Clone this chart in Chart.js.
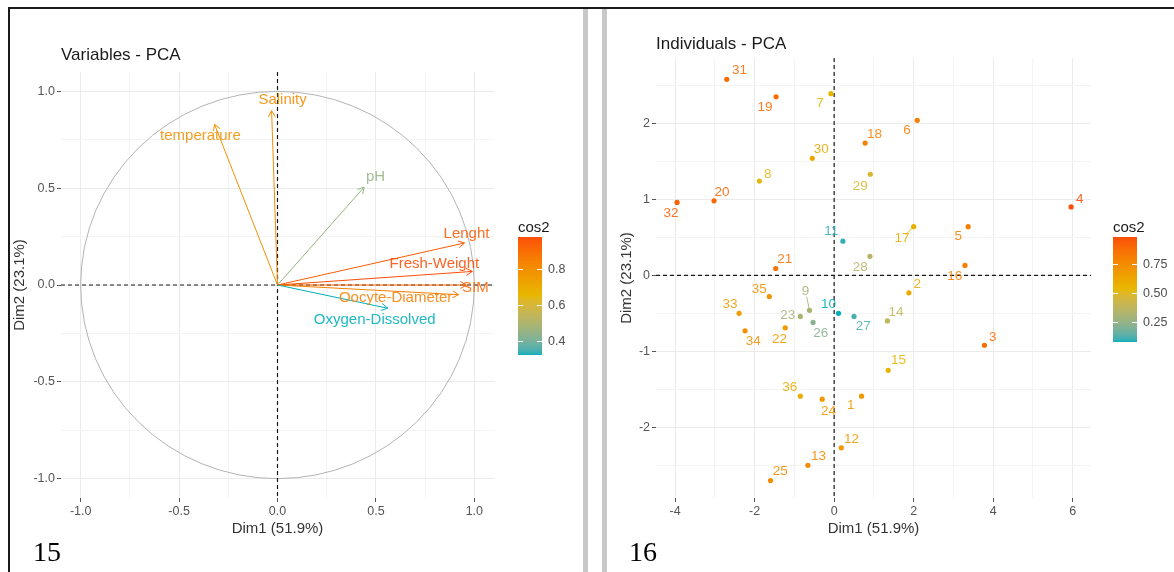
<!DOCTYPE html>
<html>
<head>
<meta charset="utf-8">
<title>PCA - variables and individuals</title>
<script src="https://cdn.jsdelivr.net/npm/chart.js@4.4.1/dist/chart.umd.min.js"></script>
<style>
    html, body { margin: 0; padding: 0; background: #fff; }
    body { width: 1174px; height: 572px; position: relative; overflow: hidden; }
    .frame-top { position: absolute; left: 8px; top: 7px; width: 1166px; height: 2px; background: #1a1a1a; }
    .frame-left { position: absolute; left: 8px; top: 7px; width: 2px; height: 565px; background: #1a1a1a; }
    .sep { position: absolute; top: 9px; width: 5px; height: 563px; background: #c8c8c8; }
    .panel { position: absolute; top: 10px; height: 560px; }
    .fig-no { position: absolute; top: 536px; font-family: "Liberation Serif", "Times New Roman", serif; font-size: 28px; color: #000; }
</style>
</head>
<body>
<div class="frame-top"></div>
<div class="frame-left"></div>
<div class="sep" style="left:583px"></div>
<div class="sep" style="left:602px"></div>
<div class="panel" style="left:10px;width:570px"><canvas id="varChart"></canvas></div>
<div class="panel" style="left:608px;width:566px"><canvas id="indChart"></canvas></div>
<div class="fig-no" style="left:33px">15</div>
<div class="fig-no" style="left:629px">16</div>

<script>
// variables panel (correlation circle)
const varNames = ['Salinity', 'temperature', 'pH', 'Lenght', 'Fresh-Weight', 'SIM', 'Oocyte-Diameter', 'Oxygen-Dissolved'];
const varDim1 = [-0.03, -0.32, 0.44, 0.95, 0.99, 0.96, 0.92, 0.56];
const varDim2 = [0.90, 0.83, 0.505, 0.217, 0.07, 0.0, -0.05, -0.12];
const varCos2 = [0.81, 0.79, 0.45, 0.95, 0.98, 0.92, 0.85, 0.32];
const varTicks = [-1, -0.5, 0, 0.5, 1];
const varMinor = [-0.75, -0.25, 0.25, 0.75];
const varRange = [-1.1, 1.1];
const varLegendTicks = [0.4, 0.6, 0.8];

// individuals panel
const indIds = ['1', '2', '3', '4', '5', '6', '7', '8', '9', '10', '11', '12', '13', '14', '15', '16', '17', '18',
    '19', '20', '21', '22', '23', '24', '25', '26', '27', '28', '29', '30', '31', '32', '33', '34', '35', '36'];
const indDim1 = [0.69, 1.88, 3.78, 5.96, 3.37, 2.09, -0.08, -1.88, -0.62, 0.11, 0.22, 0.18, -0.66, 1.34, 1.36, 3.29, 2.00, 0.78,
    -1.46, -3.02, -1.47, -1.23, -0.85, -0.30, -1.60, -0.53, 0.50, 0.90, 0.91, -0.55, -2.70, -3.95, -2.39, -2.24, -1.63, -0.85];
const indDim2 = [-1.59, -0.23, -0.92, 0.90, 0.64, 2.04, 2.39, 1.24, -0.46, -0.50, 0.45, -2.27, -2.50, -0.60, -1.25, 0.13, 0.64, 1.74,
    2.35, 0.98, 0.09, -0.69, -0.54, -1.63, -2.70, -0.62, -0.54, 0.25, 1.33, 1.54, 2.58, 0.96, -0.50, -0.73, -0.28, -1.59];
const indCos2 = [0.68, 0.60, 0.88, 0.98, 0.80, 0.80, 0.55, 0.52, 0.30, 0.08, 0.10, 0.70, 0.75, 0.38, 0.55, 0.80, 0.58, 0.80,
    0.88, 0.90, 0.85, 0.68, 0.30, 0.68, 0.75, 0.22, 0.12, 0.35, 0.48, 0.62, 0.88, 0.92, 0.66, 0.72, 0.72, 0.58];
const indXTicks = [-4, -2, 0, 2, 4, 6];
const indXMinor = [-3, -1, 1, 3, 5];
const indYTicks = [-2, -1, 0, 1, 2];
const indYMinor = [-2.5, -1.5, -0.5, 0.5, 1.5, 2.5];
const indXRange = [-4.48, 6.46];
const indYRange = [-2.93, 2.86];
const indLegendTicks = [0.25, 0.5, 0.75];

// label placement (pixel shift of the text centre from the mark), like ggrepel did it
const varLabelShift = [[11, -11], [-14, 12], [11.5, -10], [2, -9], [-38, -8], [9, 3], [-63, 3], [-13, 12]];
const indLabelShift = [[-10.7, 9.3], [8.3, -8.7], [8.3, -8.3], [8.7, -8], [-10, 9.3], [-10.3, 10.3], [-11, 10], [8.3, -7.3],
    [-4, -19.3], [-10, -9.3], [-11.7, -9.7], [10.3, -9], [10.7, -9.3], [8.7, -8.7], [10.2, -9.7], [-10.2, 11], [-11.7, 11.7],
    [9.3, -9.3], [-11, 11], [8, -8.3], [9.1, -9.3], [-5.7, 11.3], [-12.7, -0.7], [6.3, 12], [9.7, -9], [7.7, 11.3], [9.3, 10.3],
    [-9.7, 11.3], [-10, 12.3], [9, -8.7], [12.7, -8.7], [-6, 11], [-9, -9.3], [8.3, 10.3], [-10, -7.7], [-10.7, -9]];

const FONT = '"Liberation Sans", Arial, Helvetica, sans-serif';
const gradCols = ['#00AFBB', '#E7B800', '#FC4E07'];

// colour helpers: ggplot interpolates gradients in Lab space
function hexRgb(h) {
    const n = parseInt(h.slice(1), 16);
    return [(n >> 16) & 255, (n >> 8) & 255, n & 255];
}

function rgbToLab(rgb) {
    const lin = rgb.map(c => { c /= 255; return c <= 0.04045 ? c / 12.92 : Math.pow((c + 0.055) / 1.055, 2.4); });
    const X = (lin[0] * 0.4124 + lin[1] * 0.3576 + lin[2] * 0.1805) / 0.95047;
    const Y = (lin[0] * 0.2126 + lin[1] * 0.7152 + lin[2] * 0.0722);
    const Z = (lin[0] * 0.0193 + lin[1] * 0.1192 + lin[2] * 0.9505) / 1.08883;
    const f = t => t > 0.008856 ? Math.cbrt(t) : 7.787 * t + 16 / 116;
    return [116 * f(Y) - 16, 500 * (f(X) - f(Y)), 200 * (f(Y) - f(Z))];
}

function labToRgb(lab) {
    const fy = (lab[0] + 16) / 116, fx = fy + lab[1] / 500, fz = fy - lab[2] / 200;
    const inv = t => t * t * t > 0.008856 ? t * t * t : (t - 16 / 116) / 7.787;
    const X = inv(fx) * 0.95047, Y = inv(fy), Z = inv(fz) * 1.08883;
    const lin = [
        X * 3.2406 + Y * -1.5372 + Z * -0.4986,
        X * -0.9689 + Y * 1.8758 + Z * 0.0415,
        X * 0.0557 + Y * -0.2040 + Z * 1.0570
    ];
    return lin.map(c => {
        c = c <= 0.0031308 ? 12.92 * c : 1.055 * Math.pow(c, 1 / 2.4) - 0.055;
        return Math.max(0, Math.min(255, Math.round(c * 255)));
    });
}

const gradLab = gradCols.map(c => rgbToLab(hexRgb(c)));

function cos2Color(v, lo, hi) {
    const t = Math.max(0, Math.min(1, (v - lo) / (hi - lo))) * (gradLab.length - 1);
    const i = Math.min(gradLab.length - 2, Math.floor(t));
    const f = t - i;
    const c = labToRgb(gradLab[i].map((x, k) => x + (gradLab[i + 1][k] - x) * f));
    return `rgb(${c[0]},${c[1]},${c[2]})`;
}

function makeScale(major, minor, range, fmt, title, fit) {
    const all = major.concat(minor).sort((a, b) => a - b);
    const isMajor = v => major.includes(v);
    return {
        type: 'linear',
        min: range[0],
        max: range[1],
        afterBuildTicks: s => { s.ticks = all.map(v => ({ value: v })); },
        afterFit: s => {
            if (fit.width) s.width = fit.width;
            if (fit.height) s.height = fit.height;
        },
        grid: {
            color: c => (c.tick && isMajor(c.tick.value)) ? '#EBEBEB' : '#F4F4F4',
            lineWidth: 1,
            tickLength: 4,
            tickWidth: 1,
            tickColor: c => (c.tick && isMajor(c.tick.value)) ? '#555' : 'rgba(0,0,0,0)'
        },
        border: { display: false },
        ticks: {
            autoSkip: false,
            maxRotation: 0,
            padding: 2,
            color: '#555',
            font: { family: FONT, size: 12.5 },
            callback: v => isMajor(v) ? fmt(v) : ''
        },
        title: {
            display: true,
            text: title,
            color: '#333',
            font: { family: FONT, size: 15 },
            padding: fit.titlePad
        }
    };
}

// dashed zero lines (+ unit circle on the variables plot)
function refLines(withCircle) {
    return {
        id: 'refLines',
        beforeDatasetsDraw(chart) {
            const { ctx, chartArea: a, scales: { x, y } } = chart;
            const x0 = x.getPixelForValue(0), y0 = y.getPixelForValue(0);
            ctx.save();
            if (withCircle) {
                ctx.strokeStyle = '#B3B3B3';
                ctx.lineWidth = 1;
                ctx.beginPath();
                ctx.ellipse(x0, y0, x.getPixelForValue(1) - x0, y0 - y.getPixelForValue(1), 0, 0, Math.PI * 2);
                ctx.stroke();
            }
            ctx.strokeStyle = '#1a1a1a';
            ctx.lineWidth = 1.2;
            ctx.setLineDash([4, 3]);
            ctx.beginPath();
            ctx.moveTo(a.left, y0); ctx.lineTo(a.right, y0);
            ctx.moveTo(x0, a.top); ctx.lineTo(x0, a.bottom);
            ctx.stroke();
            ctx.restore();
        }
    };
}

function arrows(names, colors, shifts) {
    return {
        id: 'pcaArrows',
        afterDatasetsDraw(chart) {
            const { ctx, scales: { x, y } } = chart;
            const ox = x.getPixelForValue(0), oy = y.getPixelForValue(0);
            ctx.save();
            chart.getDatasetMeta(0).data.forEach((pt, i) => {
                const ang = Math.atan2(pt.y - oy, pt.x - ox);
                ctx.strokeStyle = colors[i];
                ctx.lineWidth = 1;
                ctx.beginPath();
                ctx.moveTo(ox, oy);
                ctx.lineTo(pt.x, pt.y);
                ctx.moveTo(pt.x - 7 * Math.cos(ang - Math.PI / 6), pt.y - 7 * Math.sin(ang - Math.PI / 6));
                ctx.lineTo(pt.x, pt.y);
                ctx.lineTo(pt.x - 7 * Math.cos(ang + Math.PI / 6), pt.y - 7 * Math.sin(ang + Math.PI / 6));
                ctx.stroke();
            });
            ctx.font = `15px ${FONT}`;
            ctx.textAlign = 'center';
            ctx.textBaseline = 'middle';
            ctx.globalAlpha = 0.88;
            chart.getDatasetMeta(0).data.forEach((pt, i) => {
                ctx.fillStyle = colors[i];
                ctx.fillText(names[i], pt.x + shifts[i][0], pt.y + shifts[i][1]);
            });
            ctx.restore();
        }
    };
}

function pointLabels(names, colors, shifts) {
    return {
        id: 'pointLabels',
        afterDatasetsDraw(chart) {
            const { ctx } = chart;
            ctx.save();
            ctx.font = `13.5px ${FONT}`;
            ctx.textAlign = 'center';
            ctx.textBaseline = 'middle';
            chart.getDatasetMeta(0).data.forEach((pt, i) => {
                const [dx, dy] = shifts[i];
                ctx.globalAlpha = 0.88;
                ctx.fillStyle = colors[i];
                ctx.fillText(names[i], pt.x + dx, pt.y + dy);
                if (Math.hypot(dx, dy) > 16) {
                    // leader line for a pushed label
                    ctx.strokeStyle = colors[i];
                    ctx.lineWidth = 1;
                    ctx.beginPath();
                    ctx.moveTo(pt.x + dx * 0.7, pt.y + dy * 0.7);
                    ctx.lineTo(pt.x - dx * 0.12, pt.y - dy * 0.12);
                    ctx.stroke();
                }
            });
            ctx.restore();
        }
    };
}

function colorbar(lo, hi, ticks, fmt, box) {
    return {
        id: 'colorbar',
        afterDraw(chart) {
            const { ctx, chartArea } = chart;
            const left = chartArea.right + box.dx;
            const top = box.top, h = box.height, w = 24;
            ctx.save();
            ctx.fillStyle = '#1a1a1a';
            ctx.font = `15px ${FONT}`;
            ctx.textAlign = 'left';
            ctx.textBaseline = 'alphabetic';
            ctx.fillText('cos2', left, top - 5);
            for (let r = 0; r < h; r++) {
                ctx.fillStyle = cos2Color(hi - (r + 0.5) / h * (hi - lo), lo, hi);
                ctx.fillRect(left, top + r, w, 1);
            }
            ctx.font = `12.5px ${FONT}`;
            ctx.textBaseline = 'middle';
            ctx.strokeStyle = '#fff';
            ctx.lineWidth = 1;
            ticks.forEach(v => {
                const yy = Math.round(top + (hi - v) / (hi - lo) * h) + 0.5;
                ctx.beginPath();
                ctx.moveTo(left, yy); ctx.lineTo(left + 5, yy);
                ctx.moveTo(left + w - 5, yy); ctx.lineTo(left + w, yy);
                ctx.stroke();
                ctx.fillStyle = '#4D4D4D';
                ctx.fillText(fmt(v), left + w + 6, yy);
            });
            ctx.restore();
        }
    };
}

const fmt1 = v => v.toFixed(1);
const fmt2 = v => v.toFixed(2);
const fmtInt = v => String(v);

function titleOpts(text, padTop, padBottom) {
    return {
        display: true,
        text: text,
        align: 'start',
        fullSize: false,
        color: '#1a1a1a',
        font: { family: FONT, size: 17, weight: 'normal' },
        padding: { top: padTop, bottom: padBottom }
    };
}

// left: variables
const varLo = Math.min(...varCos2), varHi = Math.max(...varCos2);
const varColors = varCos2.map(v => cos2Color(v, varLo, varHi));

new Chart(document.getElementById('varChart'), {
    type: 'scatter',
    data: {
        datasets: [{
            data: varNames.map((n, i) => ({ x: varDim1[i], y: varDim2[i] })),
            pointRadius: 0
        }]
    },
    options: {
        responsive: true,
        maintainAspectRatio: false,
        animation: false,
        events: [],
        layout: { padding: { left: 0, right: 86, top: 0, bottom: 0 } },
        scales: {
            x: makeScale(varTicks, varMinor, varRange, fmt1, 'Dim1 (51.9%)', { height: 72, titlePad: { top: 0, bottom: 32 } }),
            y: makeScale(varTicks, varMinor, varRange, fmt1, 'Dim2 (23.1%)', { width: 51, titlePad: { top: 1, bottom: 0 } })
        },
        plugins: {
            legend: { display: false },
            tooltip: { enabled: false },
            title: titleOpts('Variables - PCA', 34.8, 6.8)
        }
    },
    plugins: [refLines(true), arrows(varNames, varColors, varLabelShift),
        colorbar(varLo, varHi, varLegendTicks, fmt1, { dx: 24, top: 227, height: 118 })]
});

// right: individuals
const indLo = Math.min(...indCos2), indHi = Math.max(...indCos2);
const indColors = indCos2.map(v => cos2Color(v, indLo, indHi));

new Chart(document.getElementById('indChart'), {
    type: 'scatter',
    data: {
        datasets: [{
            data: indIds.map((n, i) => ({ x: indDim1[i], y: indDim2[i] })),
            pointRadius: 2.6,
            pointBorderWidth: 0,
            pointBackgroundColor: indColors
        }]
    },
    options: {
        responsive: true,
        maintainAspectRatio: false,
        animation: false,
        events: [],
        layout: { padding: { left: 0, right: 83, top: 0, bottom: 0 } },
        scales: {
            x: makeScale(indXTicks, indXMinor, indXRange, fmtInt, 'Dim1 (51.9%)', { height: 72, titlePad: { top: 0, bottom: 32 } }),
            y: makeScale(indYTicks, indYMinor, indYRange, fmtInt, 'Dim2 (23.1%)', { width: 48, titlePad: { top: 10, bottom: 0 } })
        },
        plugins: {
            legend: { display: false },
            tooltip: { enabled: false },
            title: titleOpts('Individuals - PCA', 23.8, 3.8)
        }
    },
    plugins: [refLines(false), pointLabels(indIds, indColors, indLabelShift),
        colorbar(indLo, indHi, indLegendTicks, fmt2, { dx: 22, top: 227, height: 105 })]
});
</script>
</body>
</html>
